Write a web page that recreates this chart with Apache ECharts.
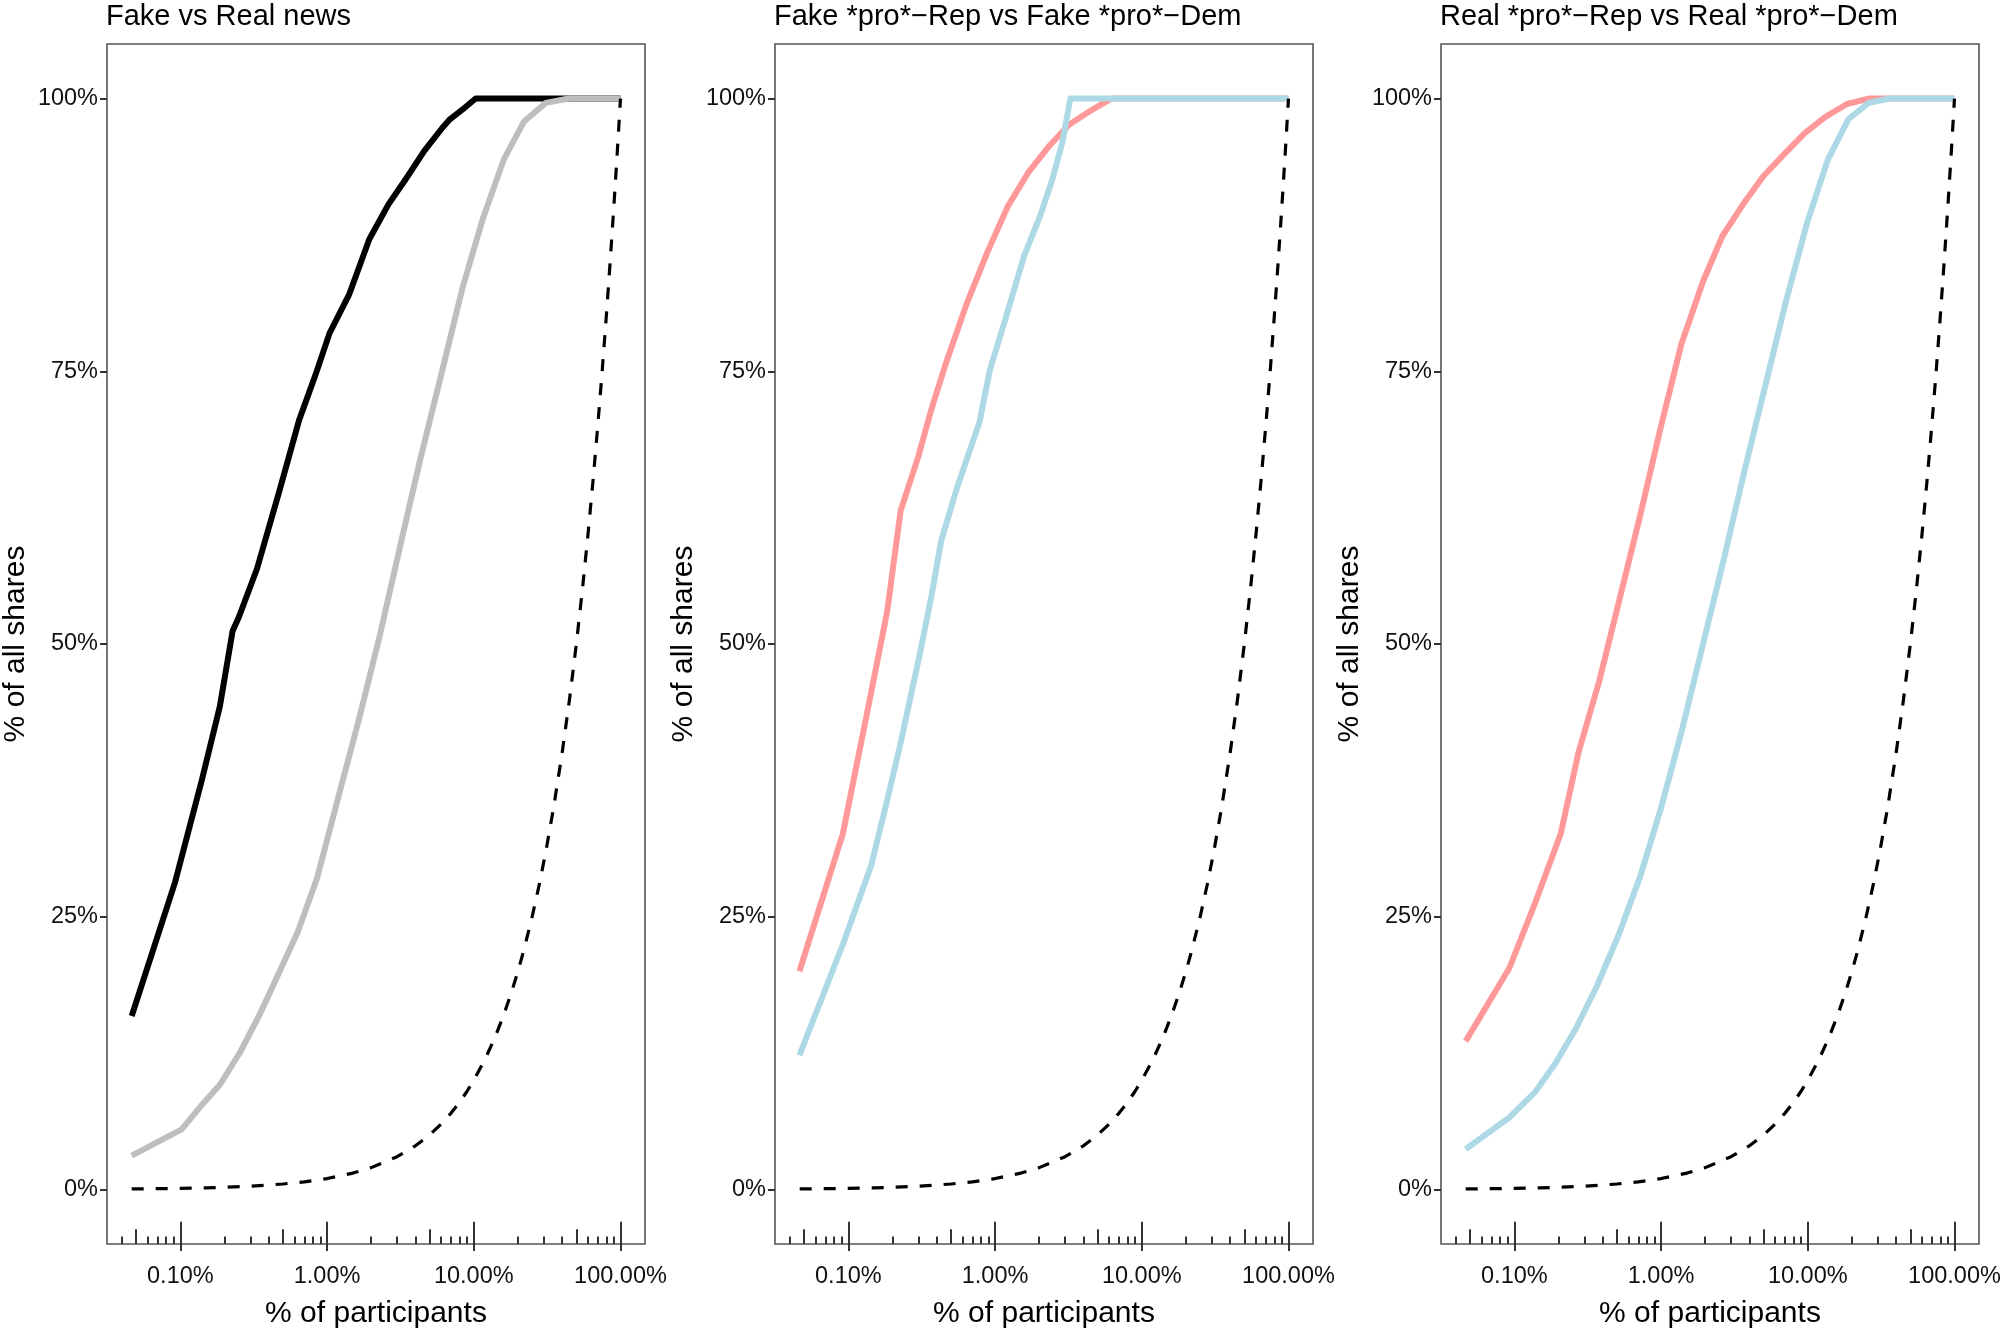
<!DOCTYPE html>
<html><head><meta charset="utf-8">
<script src="https://cdn.jsdelivr.net/npm/echarts@6/dist/echarts.min.js"></script>
<style>html,body{margin:0;padding:0;background:#fff}#c{width:2007px;height:1334px}</style>
</head><body><div id="c"></div>
<script>
// ---- text ----
const panelTitles = ['Fake vs Real news', 'Fake *pro*\u2212Rep vs Fake *pro*\u2212Dem', 'Real *pro*\u2212Rep vs Real *pro*\u2212Dem'];
const xAxisTitle = '% of participants';
const yAxisTitle = '% of all shares';

// ---- ticks (in % of participants / % of shares) ----
const xMajorTicks = [0.1, 1, 10, 100];
const xTickLabels = ['0.10%', '1.00%', '10.00%', '100.00%'];
const xMidTicks = [0.05, 0.5, 5, 50];
const xMinorTicks = [0.04, 0.06, 0.07, 0.08, 0.09, 0.2, 0.3, 0.4, 0.6, 0.7, 0.8, 0.9,
  2, 3, 4, 6, 7, 8, 9, 20, 30, 40, 60, 70, 80, 90];
const yTickValues = [0, 25, 50, 75, 100];
const yTickLabels = ['0%', '25%', '50%', '75%', '100%'];

// ---- data: x = % of participants, y = % of all shares ----
// Panel 1
const fakeX = [0.0466, 0.0922, 0.140, 0.186, 0.227, 0.251, 0.333, 0.477, 0.644, 0.84, 1.04, 1.41, 1.94, 2.62, 3.47, 4.60, 6.09, 6.87, 8.39, 10.3, 100];
const fakeY = [15.9, 28.2, 37.5, 44.3, 51.2, 52.5, 56.9, 64.2, 70.5, 74.8, 78.5, 82.0, 87.1, 90.3, 92.7, 95.2, 97.3, 98.1, 99.0, 100, 100];
const realX = [0.0466, 0.102, 0.137, 0.186, 0.256, 0.346, 0.468, 0.631, 0.853, 1.20, 1.65, 2.28, 3.14, 4.33, 6.10, 8.40, 11.6, 16.0, 22.0, 31.0, 44.4, 100];
const realY = [3.1, 5.5, 7.6, 9.6, 12.6, 16.0, 19.8, 23.6, 28.5, 36.1, 43.1, 50.7, 58.9, 67.0, 75.1, 82.7, 89.1, 94.4, 97.9, 99.6, 100, 100];
// Panel 2
const fakeRepX = [0.0464, 0.0917, 0.138, 0.184, 0.227, 0.30, 0.366, 0.456, 0.641, 0.885, 1.22, 1.68, 2.32, 3.19, 4.49, 6.18, 100];
const fakeRepY = [20.0, 32.6, 44.5, 53.0, 62.2, 67.2, 71.4, 75.5, 81.2, 85.9, 90.1, 93.2, 95.6, 97.6, 98.9, 100, 100];
const fakeDemX = [0.0464, 0.092, 0.143, 0.181, 0.226, 0.306, 0.366, 0.430, 0.547, 0.785, 0.921, 1.17, 1.58, 2.01, 2.46, 2.89, 3.26, 100];
const fakeDemY = [12.3, 22.5, 29.7, 35.3, 40.8, 49.0, 54.2, 59.5, 64.2, 70.4, 75.1, 79.7, 85.6, 89.1, 92.6, 96.1, 100, 100];
// Panel 3
const realRepX = [0.0466, 0.0925, 0.138, 0.207, 0.274, 0.379, 0.523, 0.721, 0.996, 1.375, 1.94, 2.62, 3.62, 4.99, 7.01, 9.49, 13.1, 18.5, 26.0, 100];
const realRepY = [13.6, 20.3, 26.2, 32.6, 40.1, 46.6, 54.2, 61.8, 69.9, 77.5, 83.3, 87.4, 90.3, 92.9, 95.0, 96.8, 98.3, 99.5, 100, 100];
const realDemX = [0.0466, 0.0925, 0.138, 0.191, 0.264, 0.364, 0.513, 0.721, 0.996, 1.40, 1.94, 2.67, 3.69, 5.20, 7.16, 9.89, 13.7, 18.9, 26.0, 35.9, 100];
const realDemY = [3.7, 6.6, 8.9, 11.6, 14.8, 18.6, 23.3, 28.7, 34.9, 42.3, 50.1, 57.7, 65.8, 74.0, 81.6, 88.6, 94.4, 98.1, 99.6, 100, 100];
// Equality reference (dashed)
const equalX = [0.0466, 0.07, 0.1, 0.15, 0.2, 0.3, 0.5, 0.7, 1, 1.5, 2, 3, 4, 5, 6, 7, 8, 9, 10, 12, 14, 16, 18, 20, 22, 25, 28, 31, 35, 40, 45, 50, 55, 60, 65, 70, 75, 80, 85, 90, 95, 100];
const equalY = [0.0466, 0.07, 0.1, 0.15, 0.2, 0.3, 0.5, 0.7, 1, 1.5, 2, 3, 4, 5, 6, 7, 8, 9, 10, 12, 14, 16, 18, 20, 22, 25, 28, 31, 35, 40, 45, 50, 55, 60, 65, 70, 75, 80, 85, 90, 95, 100];

// ---- styling ----
const FONT = 'Liberation Sans, Arial, Helvetica, sans-serif';
const TICK = '#333333';
const BLACK = '#000000', GREY = '#BEBEBE', PINK = '#FF9999', BLUE = '#ADD8E6';
const LOG_MIN = -1.5, LOG_MAX = 2.167; // axis extent (log10 of %)
const Y_MIN = -5, Y_MAX = 105;
const panelLeft = [107, 775, 1441];
const panelWidth = 538, panelTop = 44, panelHeight = 1207;

const panels = [
  [{x: fakeX, y: fakeY, c: BLACK}, {x: realX, y: realY, c: GREY}],
  [{x: fakeRepX, y: fakeRepY, c: PINK}, {x: fakeDemX, y: fakeDemY, c: BLUE}],
  [{x: realRepX, y: realRepY, c: PINK}, {x: realDemX, y: realDemY, c: BLUE}]
];

const lg = v => Math.log10(v);
const pairs = (xs, ys) => xs.map((x, i) => [x, ys[i]]);

const grid = [], xAxis = [], yAxis = [], series = [], title = [];
panels.forEach((lines, p) => {
  grid.push({left: panelLeft[p], top: panelTop, width: panelWidth, height: panelHeight,
    show: true, borderColor: '#555555', borderWidth: 1.6, backgroundColor: 'transparent', containLabel: false});
  title.push({text: panelTitles[p], left: panelLeft[p] - 1, top: 2, padding: 0,
    textStyle: {fontFamily: FONT, fontSize: 29, fontWeight: 'normal', color: '#000'}});
  const base = xAxis.length;
  // data axis (log scale), hidden
  xAxis.push({type: 'log', logBase: 10, gridIndex: p, min: Math.pow(10, LOG_MIN), max: Math.pow(10, LOG_MAX),
    show: false, position: 'bottom'});
  // label + outer major ticks
  xAxis.push({type: 'value', gridIndex: p, min: LOG_MIN, max: LOG_MAX, position: 'bottom',
    name: xAxisTitle, nameLocation: 'middle', nameGap: 55,
    nameTextStyle: {fontFamily: FONT, fontSize: 30, color: '#000'},
    axisLine: {show: false, onZero: false}, splitLine: {show: false},
    axisTick: {show: true, inside: false, length: 7, customValues: xMajorTicks.map(lg), lineStyle: {color: TICK, width: 2}},
    axisLabel: {show: true, margin: 21, customValues: xMajorTicks.map(lg), fontFamily: FONT, fontSize: 23.5, color: '#111',
      formatter: v => { const i = xMajorTicks.findIndex(t => Math.abs(lg(t) - v) < 1e-6); return i >= 0 ? xTickLabels[i] : ''; }}
  });
  // inner log ticks: short / mid / long
  [[xMinorTicks, 7.4], [xMidTicks, 14.8], [xMajorTicks, 22.2]].forEach(([vals, len]) => {
    xAxis.push({type: 'value', gridIndex: p, min: LOG_MIN, max: LOG_MAX, position: 'bottom',
      axisLine: {show: false, onZero: false}, splitLine: {show: false}, axisLabel: {show: false},
      axisTick: {show: true, inside: true, length: len, customValues: vals.map(lg), lineStyle: {color: TICK, width: 2}}});
  });
  yAxis.push({type: 'value', gridIndex: p, min: Y_MIN, max: Y_MAX, position: 'left',
    name: yAxisTitle, nameLocation: 'middle', nameGap: 76, nameRotate: 90,
    nameTextStyle: {fontFamily: FONT, fontSize: 30, color: '#000'},
    axisLine: {show: false, onZero: false}, splitLine: {show: false},
    axisTick: {show: true, inside: false, length: 7, customValues: yTickValues, lineStyle: {color: TICK, width: 2}},
    axisLabel: {show: true, margin: 9, customValues: yTickValues, fontFamily: FONT, fontSize: 23.5, color: '#111',
      formatter: v => { const i = yTickValues.indexOf(v); return i >= 0 ? yTickLabels[i] : ''; }}
  });
  lines.forEach(l => {
    series.push({type: 'line', xAxisIndex: base, yAxisIndex: p, data: pairs(l.x, l.y),
      showSymbol: false, symbol: 'none', silent: true, animation: false, clip: true, smooth: false,
      lineStyle: {color: l.c, width: 6, join: 'round', cap: 'butt'}});
  });
  series.push({type: 'line', xAxisIndex: base, yAxisIndex: p, data: pairs(equalX, equalY),
    showSymbol: false, symbol: 'none', silent: true, animation: false, smooth: false,
    lineStyle: {color: '#000', width: 3.2, type: [12, 12], join: 'round'}});
});

const chart = echarts.init(document.getElementById('c'), null, {renderer: 'canvas'});
chart.setOption({backgroundColor: '#ffffff', animation: false, title, grid, xAxis, yAxis, series,
  tooltip: {show: false}, legend: {show: false}});
</script></body></html>
